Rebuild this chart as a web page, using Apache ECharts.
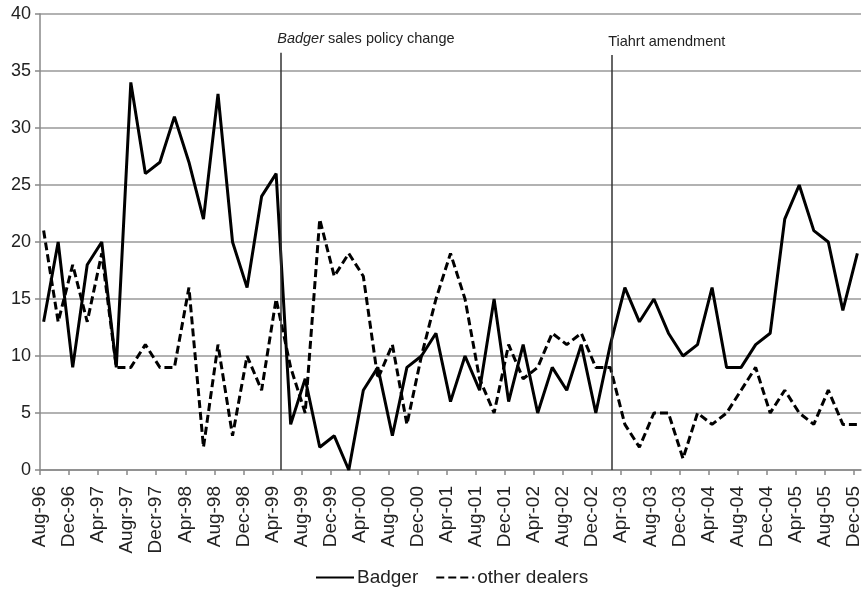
<!DOCTYPE html>
<html>
<head>
<meta charset="utf-8">
<script src="https://cdn.jsdelivr.net/npm/echarts@6/dist/echarts.min.js"></script>
<style>
html,body{margin:0;padding:0;background:#fff;}
#main{width:864px;height:593px;}
</style>
</head>
<body>
<div id="main"></div>
<script>
// Tick labels every 4 months (Aug-96 .. Dec-05)
var tickLabels = ['Aug-96','Dec-96','Apr-97','Augr-97','Decr-97','Apr-98','Aug-98','Dec-98','Apr-99','Aug-99','Dec-99','Apr-00','Aug-00','Dec-00','Apr-01','Aug-01','Dec-01','Apr-02','Aug-02','Dec-02','Apr-03','Aug-03','Dec-03','Apr-04','Aug-04','Dec-04','Apr-05','Aug-05','Dec-05'];
// Bimonthly observations (Aug-96 .. Dec-05)
var badger = [13,20,9,18,20,9,34,26,27,31,27,22,33,20,16,24,26,4,8,2,3,0,7,9,3,9,10,12,6,10,7,15,6,11,5,9,7,11,5,11,16,13,15,12,10,11,16,9,9,11,12,22,25,21,20,14,19];
var otherDealers = [21,13,18,13,19,9,9,11,9,9,16,2,11,3,10,7,15,9,5,22,17,19,17,8,11,4,10,15,19,15,8,5,11,8,9,12,11,12,9,9,4,2,5,5,1,5,4,5,7,9,5,7,5,4,7,4,4];
// Event markers (month offset from Aug-96)
var eventNames = ['Badger sales policy change','Tiahrt amendment'];
var eventMonths = [33.2, 78.75];

function toXY(arr){ return arr.map(function(v,i){ return [i*2+0.5, v]; }); }

var chart = echarts.init(document.getElementById('main'));
var font = 'Liberation Sans, Arial, sans-serif';
chart.setOption({
  animation:false,
  backgroundColor:'#fff',
  grid:{left:40,right:3,top:14,bottom:123,containLabel:false},
  legend:{
    bottom:1,left:310,itemWidth:38,itemHeight:14,itemGap:17,
    itemStyle:{opacity:0},
    textStyle:{fontFamily:font,fontSize:19,color:'#222',padding:[0,0,0,-2]},
    data:['Badger','other dealers']
  },
  xAxis:{
    type:'value',min:0,max:113,interval:4,
    axisLine:{lineStyle:{color:'#888',width:1.5}},
    axisTick:{show:true,length:5,lineStyle:{color:'#888',width:1.5}},
    splitLine:{show:false},
    axisLabel:{rotate:90,margin:16,fontFamily:font,fontSize:19,color:'#222',showMaxLabel:false,
      formatter:function(v){ return (v%4===0 && tickLabels[v/4]) ? tickLabels[v/4] : ''; }}
  },
  yAxis:{
    type:'value',min:0,max:40,interval:5,
    axisLine:{show:true,lineStyle:{color:'#888',width:1.5}},
    axisTick:{show:true,length:5,lineStyle:{color:'#888',width:1.5}},
    splitLine:{lineStyle:{color:'#999',width:1.5}},
    axisLabel:{margin:9,fontFamily:font,fontSize:18,color:'#222'}
  },
  series:[
    {name:'Badger',type:'line',data:toXY(badger),symbol:'none',
     lineStyle:{color:'#000',width:3},itemStyle:{color:'#000'},
     markLine:{silent:true,symbol:['none','none'],
       lineStyle:{color:'#333',width:1.5,type:'solid'},
       label:{show:true,position:'end',align:'left',distance:6,fontFamily:font,fontSize:14.5,color:'#222',
         padding:[0,0,0,-4],
         formatter:function(p){ return p.name==='Badger sales policy change' ? '{i|Badger} sales policy change' : p.name; },
         rich:{i:{fontStyle:'italic',fontFamily:font,fontSize:14.5,color:'#222'}}},
       data:[
         [{name:eventNames[0],coord:[eventMonths[0],0]},{coord:[eventMonths[0],36.6]}],
         [{name:eventNames[1],coord:[eventMonths[1],0]},{coord:[eventMonths[1],36.4]}]
       ]}
    },
    {name:'other dealers',type:'line',data:toXY(otherDealers),symbol:'none',
     lineStyle:{color:'#000',width:3,type:[8,4]},itemStyle:{color:'#000'}}
  ]
});
</script>
</body>
</html>
